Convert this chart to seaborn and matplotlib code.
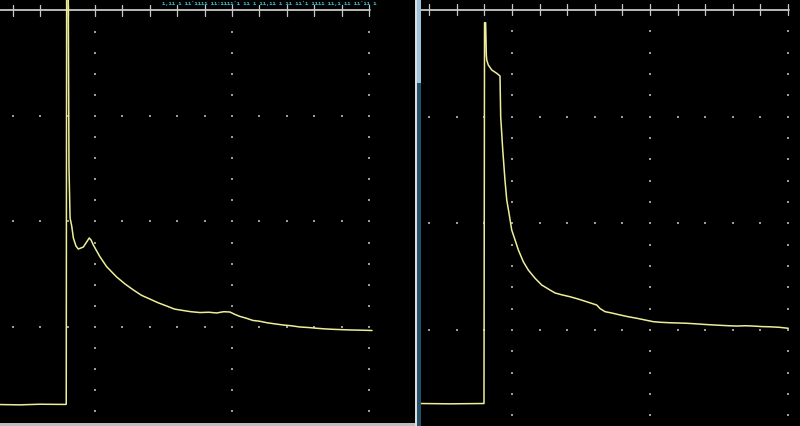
import numpy as np
import pandas as pd
import matplotlib
matplotlib.use("Agg")
import matplotlib.pyplot as plt
from matplotlib.patches import Rectangle
import seaborn as sns

# ---- data (screen divisions) ----
left_t = [0.30, 0.45, 0.60, 0.78, 0.79, 0.793, 0.805, 0.81, 0.818, 0.83, 0.842, 0.861,
          0.878, 0.915, 0.934, 0.958, 0.971, 0.988, 1.036, 1.085, 1.158, 1.219, 1.280,
          1.34, 1.401, 1.46, 1.523, 1.58, 1.645, 1.70, 1.766, 1.83, 1.888, 1.94, 1.985,
          2.02, 2.058, 2.10, 2.153, 2.20, 2.253, 2.31, 2.374, 2.43, 2.496, 2.56, 2.618,
          2.68, 2.739, 2.80, 2.861, 2.94, 3.022]
left_v = [0.265, 0.262, 0.268, 0.266, 0.267, 4.15, 4.15, 2.517, 2.033, 1.957, 1.844, 1.768,
          1.739, 1.758, 1.796, 1.844, 1.825, 1.777, 1.666, 1.572, 1.474, 1.408, 1.351,
          1.30, 1.265, 1.23, 1.199, 1.17, 1.156, 1.145, 1.137, 1.14, 1.133, 1.145, 1.142,
          1.12, 1.100, 1.085, 1.062, 1.055, 1.041, 1.03, 1.019, 1.012, 1.000, 0.995, 0.988,
          0.982, 0.978, 0.975, 0.972, 0.970, 0.967]

right_t = [0.34, 0.55, 0.788, 0.797, 0.801, 0.809, 0.814, 0.817, 0.828, 0.853, 0.889, 0.913,
           0.918, 0.933, 0.949, 0.962, 0.978, 0.998, 1.022, 1.046, 1.082, 1.118, 1.167,
           1.215, 1.275, 1.312, 1.36, 1.420, 1.48, 1.541, 1.614, 1.638, 1.674, 1.72, 1.783,
           1.84, 1.904, 1.96, 2.024, 2.08, 2.145, 2.20, 2.266, 2.33, 2.386, 2.45, 2.507,
           2.57, 2.628, 2.69, 2.749, 2.81, 2.870, 2.94, 3.002]
right_v = [0.311, 0.308, 0.311, 0.311, 3.880, 3.880, 3.577, 3.530, 3.484, 3.437, 3.406, 3.381,
           2.999, 2.687, 2.406, 2.218, 2.097, 1.937, 1.844, 1.750, 1.640, 1.562, 1.485,
           1.422, 1.375, 1.347, 1.33, 1.312, 1.29, 1.265, 1.234, 1.201, 1.172, 1.16, 1.141,
           1.125, 1.110, 1.095, 1.078, 1.072, 1.068, 1.066, 1.063, 1.058, 1.053, 1.048, 1.044,
           1.04, 1.037, 1.04, 1.037, 1.032, 1.030, 1.025, 1.016]

status_text = "ı,ıı ı ıı'ıııı ıı:ıııı'ı ıı ı ıı,ıı ı ıı ıı'ı ıııı ıı,ı ıı ıı'ıı ı"

W, H = 800, 426
sns.set_theme(style="dark", rc={"axes.facecolor": "black", "figure.facecolor": "black"})

fig = plt.figure(figsize=(W / 100, H / 100), dpi=100)
fig.patch.set_facecolor("black")

TRACE = "#eeee9a"
GRID = "#9a9a9a"
AXIS = "#c8c8c8"

def make_panel(px0, px1, col1_px, col_sp, row0_px, row_sp, axis_end, t, v):
    ax = fig.add_axes([px0 / W, 0, (px1 - px0) / W, 1])
    ax.set_axis_off()
    xdiv = lambda p: 1 + (p - col1_px) / col_sp
    ydiv = lambda p: (row0_px - p) / row_sp
    ax.set_xlim(xdiv(px0), xdiv(px1))
    ax.set_ylim(ydiv(H), ydiv(0))
    # graticule dots
    minor = np.arange(0.4, 3.01, 0.2)
    yminor = np.arange(0.2, 3.81, 0.2)
    gx, gy = [], []
    for c in (1, 2, 3):
        gx += [c] * len(yminor); gy += list(yminor)
    for r in (1, 2, 3):
        gx += list(minor); gy += [r] * len(minor)
    ax.scatter(gx, gy, s=2.0, marker="s", color=GRID, linewidths=0, zorder=1)
    # top axis with ticks
    ax.plot([xdiv(px0), axis_end], [4, 4], color=AXIS, lw=1.3, zorder=2)
    for m in minor:
        ax.plot([m, m], [4 - 0.05, 4 + 0.055], color=AXIS, lw=0.9, zorder=2)
    df = pd.DataFrame({"t": t, "v": v})
    sns.lineplot(data=df, x="t", y="v", sort=False, estimator=None, color=TRACE,
                 lw=1.1, ax=ax, zorder=3)
    return ax

make_panel(0, 415, 95, 137, 432.5, 105.5, 3.007, left_t, left_v)
make_panel(421, 800, 512, 138, 436.7, 106.7, 3.005, right_t, right_v)

# panel separator and bottom frame
fig.add_artist(Rectangle((415 / W, 0), 1.6 / W, 1, transform=fig.transFigure,
                         color="#dcdcdc", lw=0))
fig.add_artist(Rectangle((416.6 / W, 0), 4.4 / W, 1, transform=fig.transFigure,
                         color="#24506c", lw=0))
fig.add_artist(Rectangle((416.6 / W, 1 - 83 / H), 4.4 / W, 83 / H, transform=fig.transFigure,
                         color="#9cc4dc", lw=0))
fig.add_artist(Rectangle((0, 0), 415 / W, 3.5 / H, transform=fig.transFigure,
                         color="#bdbdbd", lw=0))
# small status text at the top of the left screen
fig.text(162 / W, 1 - 0.5 / H, status_text, color="#3fbfcf",
         fontsize=4.0, va="top", ha="left", family="DejaVu Sans Mono", fontweight="bold")

fig.savefig("out.png", dpi=100, facecolor="black")
